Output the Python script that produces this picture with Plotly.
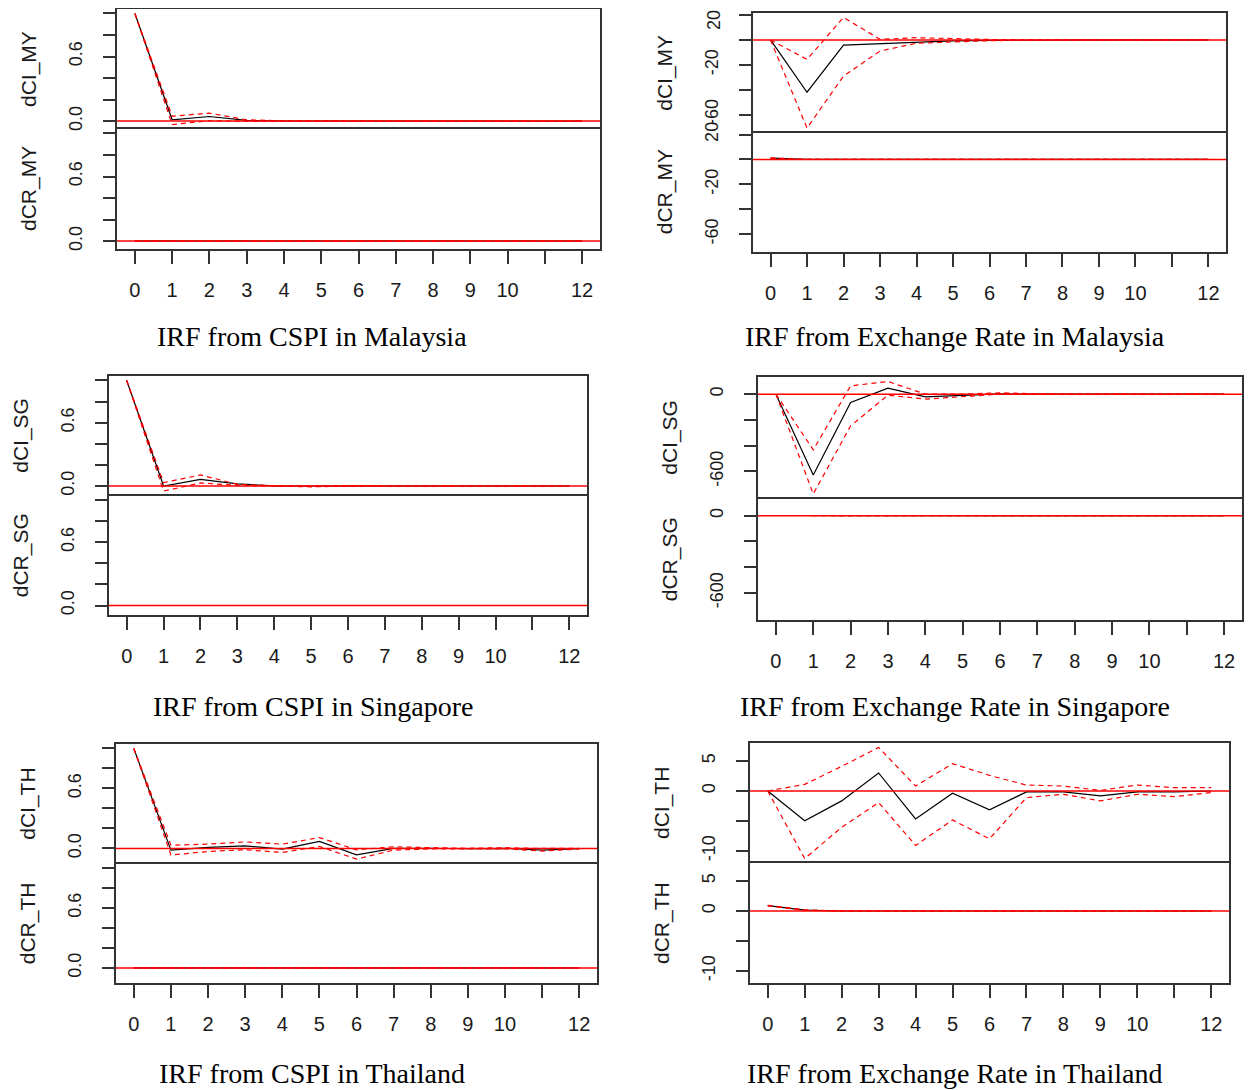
import plotly.graph_objects as go

# ---------------- data ----------------
steps = [0, 1, 2, 3, 4, 5, 6, 7, 8, 9, 10, 11, 12]
x_tick_text = ["0", "1", "2", "3", "4", "5", "6", "7", "8", "9", "10", "", "12"]

# Malaysia, shock: CSPI
my_cspi_ci_irf = [1.0, 0.012, 0.043, 0.006, 0.001, 0.0, 0.0, 0.0, 0.0, 0.0, 0.0, 0.0, 0.0]
my_cspi_ci_lower = [1.0, -0.032, 0.004, -0.003, -0.002, 0.0, 0.0, 0.0, 0.0, 0.0, 0.0, 0.0, 0.0]
my_cspi_ci_upper = [1.0, 0.045, 0.074, 0.012, 0.002, 0.0, 0.0, 0.0, 0.0, 0.0, 0.0, 0.0, 0.0]
my_cspi_cr_irf = [0.0, 0.0, 0.0, 0.0, 0.0, 0.0, 0.0, 0.0, 0.0, 0.0, 0.0, 0.0, 0.0]
my_cspi_cr_lower = [0.0, 0.0, 0.0, 0.0, 0.0, 0.0, 0.0, 0.0, 0.0, 0.0, 0.0, 0.0, 0.0]
my_cspi_cr_upper = [0.0, 0.0, 0.0, 0.0, 0.0, 0.0, 0.0, 0.0, 0.0, 0.0, 0.0, 0.0, 0.0]

# Malaysia, shock: exchange rate
my_er_ci_irf = [0.0, -42.0, -4.2, -2.9, -1.6, -0.8, -0.3, -0.1, 0.0, 0.0, 0.0, 0.0, 0.0]
my_er_ci_lower = [0.0, -70.8, -29.0, -8.9, -2.6, -1.3, -0.6, -0.2, -0.1, 0.0, 0.0, 0.0, 0.0]
my_er_ci_upper = [0.0, -15.6, 18.1, 0.5, 1.8, 0.9, 0.4, 0.1, 0.0, 0.0, 0.0, 0.0, 0.0]
my_er_cr_irf = [1.1, 0.0, 0.0, 0.0, 0.0, 0.0, 0.0, 0.0, 0.0, 0.0, 0.0, 0.0, 0.0]
my_er_cr_lower = [0.9, 0.0, 0.0, 0.0, 0.0, 0.0, 0.0, 0.0, 0.0, 0.0, 0.0, 0.0, 0.0]
my_er_cr_upper = [1.3, 0.0, 0.0, 0.0, 0.0, 0.0, 0.0, 0.0, 0.0, 0.0, 0.0, 0.0, 0.0]

# Singapore, shock: CSPI
sg_cspi_ci_irf = [1.0, 0.0, 0.063, 0.02, 0.002, 0.0, 0.0, 0.0, 0.0, 0.0, 0.0, 0.0, 0.0]
sg_cspi_ci_lower = [1.0, -0.048, 0.029, 0.006, 0.0, -0.008, 0.0, 0.0, 0.0, 0.0, 0.0, 0.0, 0.0]
sg_cspi_ci_upper = [1.0, 0.032, 0.105, 0.016, 0.003, 0.0, 0.0, 0.0, 0.0, 0.0, 0.0, 0.0, 0.0]
sg_cspi_cr_irf = [0.0, 0.0, 0.0, 0.0, 0.0, 0.0, 0.0, 0.0, 0.0, 0.0, 0.0, 0.0, 0.0]
sg_cspi_cr_lower = [0.0, 0.0, 0.0, 0.0, 0.0, 0.0, 0.0, 0.0, 0.0, 0.0, 0.0, 0.0, 0.0]
sg_cspi_cr_upper = [0.0, 0.0, 0.0, 0.0, 0.0, 0.0, 0.0, 0.0, 0.0, 0.0, 0.0, 0.0, 0.0]

# Singapore, shock: exchange rate
sg_er_ci_irf = [0.0, -628.0, -65.0, 47.0, -21.0, -8.0, 2.0, 0.0, 0.0, 0.0, 0.0, 0.0, 0.0]
sg_er_ci_lower = [0.0, -775.0, -246.0, -8.0, -39.0, -21.0, 0.0, 0.0, 0.0, 0.0, 0.0, 0.0, 0.0]
sg_er_ci_upper = [0.0, -432.0, 64.0, 98.0, 0.0, 0.0, 10.0, 2.0, 0.0, 0.0, 0.0, 0.0, 0.0]
sg_er_cr_irf = [1.0, 0.0, 0.0, 0.0, 0.0, 0.0, 0.0, 0.0, 0.0, 0.0, 0.0, 0.0, 0.0]
sg_er_cr_lower = [0.9, 0.0, 0.0, 0.0, 0.0, 0.0, 0.0, 0.0, 0.0, 0.0, 0.0, 0.0, 0.0]
sg_er_cr_upper = [1.1, 0.0, 0.0, 0.0, 0.0, 0.0, 0.0, 0.0, 0.0, 0.0, 0.0, 0.0, 0.0]

# Thailand, shock: CSPI
th_cspi_ci_irf = [1.0, -0.017, 0.010, 0.026, -0.007, 0.070, -0.063, 0.0, 0.002, -0.003, 0.001, -0.017, -0.002]
th_cspi_ci_lower = [1.0, -0.066, -0.030, -0.013, -0.040, 0.020, -0.106, -0.017, -0.004, -0.006, -0.003, -0.026, -0.006]
th_cspi_ci_upper = [1.0, 0.033, 0.043, 0.066, 0.043, 0.109, -0.013, 0.017, 0.008, 0.002, 0.008, 0.0, 0.002]
th_cspi_cr_irf = [0.0, 0.0, 0.0, 0.0, 0.0, 0.0, 0.0, 0.0, 0.0, 0.0, 0.0, 0.0, 0.0]
th_cspi_cr_lower = [0.0, 0.0, 0.0, 0.0, 0.0, 0.0, 0.0, 0.0, 0.0, 0.0, 0.0, 0.0, 0.0]
th_cspi_cr_upper = [0.0, 0.0, 0.0, 0.0, 0.0, 0.0, 0.0, 0.0, 0.0, 0.0, 0.0, 0.0, 0.0]

# Thailand, shock: exchange rate
th_er_ci_irf = [0.0, -4.94, -1.65, 3.0, -4.66, -0.38, -3.13, -0.16, -0.16, -0.82, -0.16, -0.16, 0.0]
th_er_ci_lower = [0.0, -11.25, -6.04, -1.92, -9.06, -4.83, -7.96, -1.1, -0.55, -1.65, -0.55, -0.93, -0.27]
th_er_ci_upper = [0.0, 1.1, 4.1, 7.25, 0.82, 4.56, 2.6, 0.99, 0.82, 0.1, 0.99, 0.55, 0.55]
th_er_cr_irf = [0.9, 0.15, 0.0, 0.0, 0.0, 0.0, 0.0, 0.0, 0.0, 0.0, 0.0, 0.0, 0.0]
th_er_cr_lower = [0.85, 0.1, 0.0, 0.0, 0.0, 0.0, 0.0, 0.0, 0.0, 0.0, 0.0, 0.0, 0.0]
th_er_cr_upper = [0.95, 0.2, 0.0, 0.0, 0.0, 0.0, 0.0, 0.0, 0.0, 0.0, 0.0, 0.0, 0.0]

# y ticks / labels per panel
cspi_yticks = [0.0, 0.2, 0.4, 0.6, 0.8, 1.0]
cspi_ylabels = ["0.0", "", "", "0.6", "", ""]
my_er_yticks = [20, 0, -20, -40, -60]
my_er_ylabels = ["20", "", "-20", "", "-60"]
sg_er_yticks = [0, -200, -400, -600]
sg_er_ylabels = ["0", "", "", "-600"]
th_er_yticks = [5, 0, -5, -10]
th_er_ylabels = ["5", "0", "", "-10"]

titles = [
    "IRF from CSPI in Malaysia",
    "IRF from Exchange Rate in Malaysia",
    "IRF from CSPI in Singapore",
    "IRF from Exchange Rate in Singapore",
    "IRF from CSPI in Thailand",
    "IRF from Exchange Rate in Thailand",
]

panels = [
    dict(title=titles[0], names=("dCI_MY", "dCR_MY"),
         ci=(my_cspi_ci_irf, my_cspi_ci_lower, my_cspi_ci_upper),
         cr=(my_cspi_cr_irf, my_cspi_cr_lower, my_cspi_cr_upper),
         yt=cspi_yticks, yl=cspi_ylabels, box=(117, 600, 9, 249), tpos=(312, 337)),
    dict(title=titles[1], names=("dCI_MY", "dCR_MY"),
         ci=(my_er_ci_irf, my_er_ci_lower, my_er_ci_upper),
         cr=(my_er_cr_irf, my_er_cr_lower, my_er_cr_upper),
         yt=my_er_yticks, yl=my_er_ylabels, box=(753, 1226, 13, 252), tpos=(955, 337)),
    dict(title=titles[2], names=("dCI_SG", "dCR_SG"),
         ci=(sg_cspi_ci_irf, sg_cspi_ci_lower, sg_cspi_ci_upper),
         cr=(sg_cspi_cr_irf, sg_cspi_cr_lower, sg_cspi_cr_upper),
         yt=cspi_yticks, yl=cspi_ylabels, box=(109, 587, 376, 615), tpos=(313, 706)),
    dict(title=titles[3], names=("dCI_SG", "dCR_SG"),
         ci=(sg_er_ci_irf, sg_er_ci_lower, sg_er_ci_upper),
         cr=(sg_er_cr_irf, sg_er_cr_lower, sg_er_cr_upper),
         yt=sg_er_yticks, yl=sg_er_ylabels, box=(758, 1242, 377, 620), tpos=(955, 706)),
    dict(title=titles[4], names=("dCI_TH", "dCR_TH"),
         ci=(th_cspi_ci_irf, th_cspi_ci_lower, th_cspi_ci_upper),
         cr=(th_cspi_cr_irf, th_cspi_cr_lower, th_cspi_cr_upper),
         yt=cspi_yticks, yl=cspi_ylabels, box=(116, 597, 744, 983), tpos=(312, 1073)),
    dict(title=titles[5], names=("dCI_TH", "dCR_TH"),
         ci=(th_er_ci_irf, th_er_ci_lower, th_er_ci_upper),
         cr=(th_er_cr_irf, th_er_cr_lower, th_er_cr_upper),
         yt=th_er_yticks, yl=th_er_ylabels, box=(750, 1229, 743, 983), tpos=(955, 1073)),
]

# ---------------- figure ----------------
# page body has an 8px margin, so the figure is offset by 8px in the window
OFF = 8
W, H = 1256 - OFF, 1090 - OFF


def fx(px):
    return (px - OFF) / W


def fy(py):
    return 1 - (py - OFF) / H


axis_color = "#333333"
sans = "Liberation Sans, Arial, sans-serif"
serif = "Liberation Serif, Times New Roman, serif"
xtick_font = dict(family=sans, size=20, color="#1a1a1a")
ytick_font = dict(family=sans, size=18, color="#1a1a1a")

fig = go.Figure()
layout_axes = {}
shapes = []
annotations = []

n = 0
for p in panels:
    L, R, T, B = p["box"]
    S = (T + B) / 2.0
    vals = []
    for s in p["ci"] + p["cr"]:
        vals += list(s)
    lo, hi = min(vals), max(vals)
    pad = 0.04 * (hi - lo)
    yr = [lo - pad, hi + pad]
    subs = [(p["names"][0], p["ci"], T, S, False), (p["names"][1], p["cr"], S, B, True)]
    for name, series, top, bot, is_bottom in subs:
        n += 1
        xa = "x" if n == 1 else f"x{n}"
        ya = "y" if n == 1 else f"y{n}"
        irf, lower, upper = series
        fig.add_trace(go.Scatter(x=steps, y=irf, mode="lines",
                                 line=dict(color="black", width=1.2),
                                 xaxis=xa, yaxis=ya, showlegend=False, hoverinfo="skip"))
        for ci in (lower, upper):
            fig.add_trace(go.Scatter(x=steps, y=ci, mode="lines",
                                     line=dict(color="red", width=1.2, dash="5px,4px"),
                                     xaxis=xa, yaxis=ya, showlegend=False, hoverinfo="skip"))
        xkey = "xaxis" if n == 1 else f"xaxis{n}"
        ykey = "yaxis" if n == 1 else f"yaxis{n}"

        # a tick label that would run past the top of the page is drawn as an
        # annotation nudged just inside the page instead
        ylabels = list(p["yl"])
        if not is_bottom and top < 20:
            for i, (tv, tl) in enumerate(zip(p["yt"], ylabels)):
                frac = (tv - yr[0]) / (yr[1] - yr[0])
                py = bot - frac * (bot - top)
                if tl and py - 11 < OFF:
                    ylabels[i] = ""
                    annotations.append(dict(text=tl, x=fx(L - 39), y=fy(OFF + 12),
                                            xref="paper", yref="paper", textangle=-90,
                                            showarrow=False, xanchor="center", yanchor="middle",
                                            font=ytick_font))

        layout_axes[xkey] = dict(
            domain=[fx(L), fx(R)], range=[-0.48, 12.48], anchor=ya,
            side="bottom" if is_bottom else "top",
            showline=True, mirror=bool(is_bottom), linecolor=axis_color, linewidth=1.5,
            showgrid=False, zeroline=False, automargin=False,
            ticks="outside" if is_bottom else "",
            tickmode="array",
            tickvals=steps if is_bottom else [],
            ticktext=x_tick_text if is_bottom else [],
            showticklabels=is_bottom,
            ticklen=13, tickwidth=1.5, tickcolor=axis_color,
            tickfont=xtick_font, ticklabelstandoff=9, ticklabeloverflow="allow",
        )
        layout_axes[ykey] = dict(
            domain=[fy(bot), fy(top)], range=yr, anchor=xa,
            showline=True, mirror=True, linecolor=axis_color, linewidth=1.5,
            showgrid=False, zeroline=False, automargin=False,
            ticks="outside", tickmode="array", tickvals=p["yt"], ticktext=ylabels,
            tickangle=-90, ticklen=12, tickwidth=1.5, tickcolor=axis_color,
            tickfont=ytick_font, ticklabelstandoff=14, ticklabeloverflow="allow",
        )
        shapes.append(dict(type="line", xref=f"{xa} domain", x0=0, x1=1,
                           yref=ya, y0=0, y1=0,
                           line=dict(color="red", width=1.5), layer="above"))
        annotations.append(dict(text=name, x=fx(L - 88), y=fy((top + bot) / 2.0),
                                xref="paper", yref="paper", textangle=-90,
                                showarrow=False, xanchor="center", yanchor="middle",
                                font=dict(family=sans, size=21, color="#1a1a1a")))
    tx, ty = p["tpos"]
    annotations.append(dict(text=p["title"], x=fx(tx), y=fy(ty), xref="paper", yref="paper",
                            showarrow=False, xanchor="center", yanchor="middle",
                            font=dict(family=serif, size=28, color="black")))

fig.update_layout(
    width=W, height=H, margin=dict(l=0, r=0, t=0, b=0, autoexpand=False),
    paper_bgcolor="white", plot_bgcolor="white",
    shapes=shapes, annotations=annotations, showlegend=False,
    **layout_axes,
)

fig.write_html("out.html")
